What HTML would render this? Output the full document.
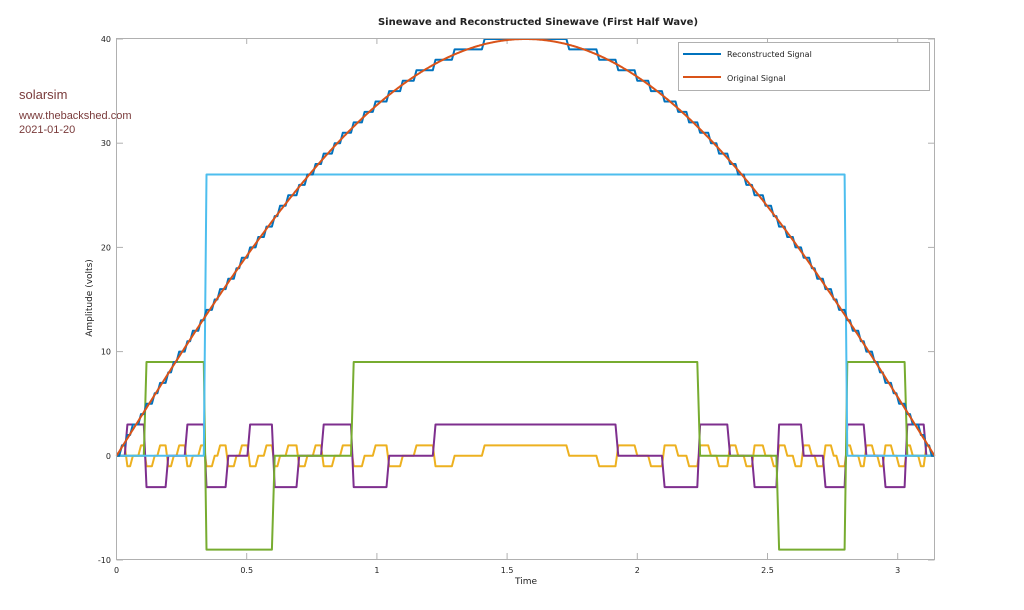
<!DOCTYPE html>
<html><head><meta charset="utf-8"><style>
body{margin:0;background:#fff;width:1024px;height:610px;overflow:hidden;font-family:"DejaVu Sans","Liberation Sans",sans-serif;}
</style></head><body>
<svg id="s" width="1024" height="610" xmlns="http://www.w3.org/2000/svg" style="position:absolute;left:0;top:0">
<rect width="1024" height="610" fill="#fff"/>
<text x="538" y="25" font-size="10" font-weight="bold" text-anchor="middle" fill="#222">Sinewave and Reconstructed Sinewave (First Half Wave)</text>
<text x="19" y="99" font-family="Liberation Sans,sans-serif" font-size="13" fill="#7a3b3b">solarsim</text>
<text x="19" y="119" font-family="Liberation Sans,sans-serif" font-size="11" fill="#7a3b3b">www.thebackshed.com</text>
<text x="19" y="133" font-family="Liberation Sans,sans-serif" font-size="11" fill="#7a3b3b">2021-01-20</text>
<g id="ax"></g>
<g id="lines" fill="none" stroke-width="2" stroke-linejoin="round"></g>
<rect x="116.5" y="38.5" width="818" height="521" fill="none" stroke="#b0b0b0" stroke-width="1"/>
<rect x="678.5" y="42.5" width="251" height="48" fill="#fff" stroke="#b0b0b0"/>
<line x1="683" y1="54" x2="721" y2="54" stroke="#0072BD" stroke-width="2"/>
<line x1="683" y1="77" x2="721" y2="77" stroke="#D95319" stroke-width="2"/>
<text x="727" y="57" font-size="8" fill="#222">Reconstructed Signal</text>
<text x="727" y="81" font-size="8" fill="#222">Original Signal</text>
<text x="526" y="584" font-size="9" text-anchor="middle" fill="#222">Time</text>
<text transform="translate(92,298) rotate(-90)" font-size="9" text-anchor="middle" fill="#222">Amplitude (volts)</text>
</svg>
<script>
var X0=116.5,XS=260.4,Y0=455.8,YS=10.42;
function px(t){return X0+t*XS}function py(v){return Y0-v*YS}
var ax=document.getElementById('ax'),h='';
[0,0.5,1,1.5,2,2.5,3].forEach(function(t){var x=px(t);
h+='<line x1="'+x+'" y1="559" x2="'+x+'" y2="553" stroke="#b0b0b0"/><line x1="'+x+'" y1="38" x2="'+x+'" y2="44" stroke="#b0b0b0"/>';
h+='<text x="'+x+'" y="573" font-size="8" text-anchor="middle" fill="#222">'+t+'</text>';});
[-10,0,10,20,30,40].forEach(function(v){var y=py(v);
h+='<line x1="116.5" y1="'+y+'" x2="123" y2="'+y+'" stroke="#b0b0b0"/><line x1="934.5" y1="'+y+'" x2="928" y2="'+y+'" stroke="#b0b0b0"/>';
h+='<text x="111" y="'+(y+3)+'" font-size="8" text-anchor="end" fill="#222">'+v+'</text>';});
ax.innerHTML=h;
function bt(n){var d=[];for(var i=0;i<4;i++){var r=((n%3)+3)%3;if(r==2)r=-1;d.push(r);n=(n-r)/3;}return d;}
var N=300,P={o:[],q:[],c:[[],[],[],[]]};
for(var i=0;i<=N;i++){var t=Math.PI*i/N,v=40*Math.sin(t),q=Math.round(v),d=bt(q);
P.o.push([t,v]);P.q.push([t,q]);for(var k=0;k<4;k++)P.c[k].push([t,d[k]*Math.pow(3,k)]);}
function path(a,c){return '<path stroke="'+c+'" d="'+a.map(function(p,i){return (i?'L':'M')+px(p[0]).toFixed(1)+' '+py(p[1]).toFixed(1)}).join('')+'"/>';}
var o=[];o.push(path(P.c[0],'#EDB120'));o.push(path(P.c[1],'#7E2F8E'));o.push(path(P.c[2],'#77AC30'));o.push(path(P.c[3],'#4DBEEE'));
o.push(path(P.q,'#0072BD'));
var oo=[];for(var i=0;i<=1000;i++){var t=Math.PI*i/1000;oo.push([t,40*Math.sin(t)]);}
o.push(path(oo,'#D95319'));
document.getElementById('lines').innerHTML=o.join('');
</script>
</body></html>
